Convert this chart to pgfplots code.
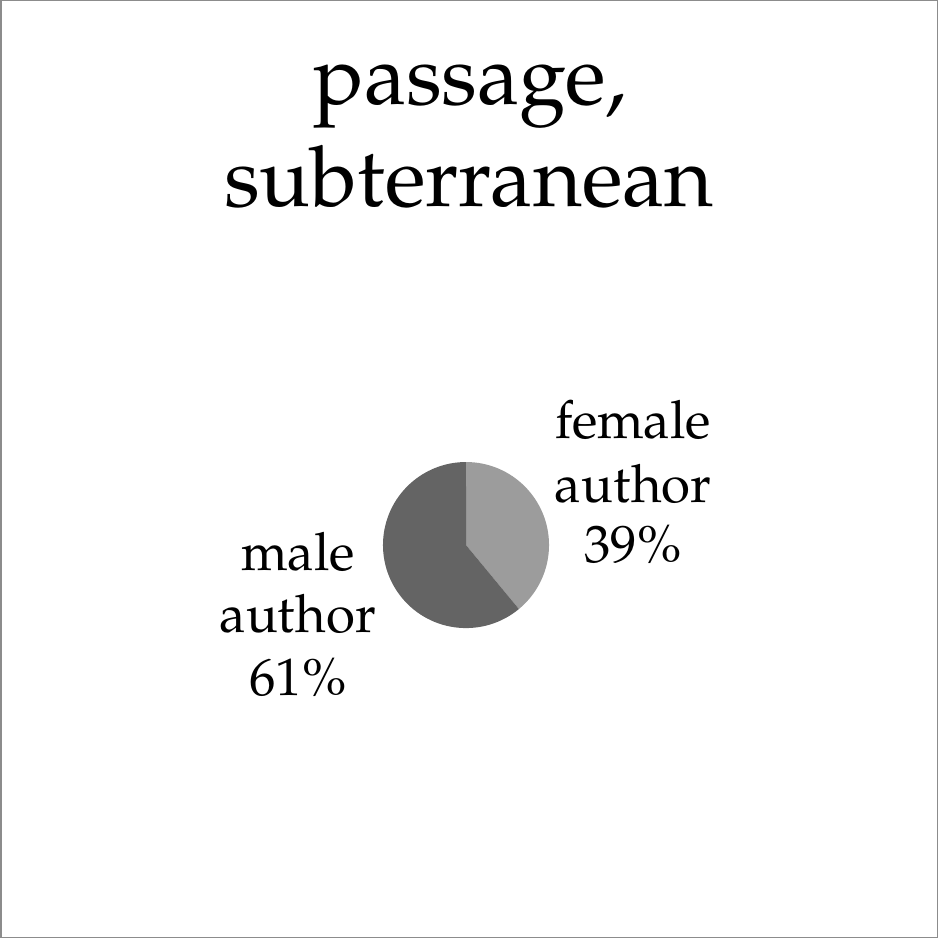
\documentclass[border=0pt]{standalone}
\usepackage{fontspec}
\setmainfont{TeX Gyre Pagella}
\usepackage{pgfplots}
\pgfplotsset{compat=1.18}
\usepackage{pgfplotstable}
\pgfplotstableread{
label value
female 39
male 61
}\piedata
\pgfplotstablegetelem{0}{value}\of\piedata \let\vf\pgfplotsretval
\pgfplotstablegetelem{1}{value}\of\piedata \let\vm\pgfplotsretval
\pgfmathsetmacro\af{\vf/(\vf+\vm)*360}
\pgfmathsetmacro\am{\vm/(\vf+\vm)*360}
\definecolor{femc}{HTML}{9C9C9C}
\definecolor{malec}{HTML}{646464}
\definecolor{framec}{HTML}{8C8C8C}
\def\R{1.66cm}
\begin{document}
\begin{tikzpicture}
\begin{axis}[
  x=0.02cm, y=0.02cm,
  xmin=0, xmax=938, ymin=0, ymax=938,
  y dir=reverse,
  hide axis, clip=false,
]
\draw[framec, line width=0.03cm] (axis cs:1,1) rectangle (axis cs:937,937);
% pie slices from the table values
\fill[femc] (axis cs:466,545) -- ++(90:\R) arc[start angle=90, delta angle=-\af, radius=\R] -- cycle;
\fill[malec] (axis cs:466,545) -- ++(90-\af:\R) arc[start angle=90-\af, delta angle=-\am, radius=\R] -- cycle;
% title
\node[anchor=base, font=\fontsize{48}{56}\selectfont, inner sep=0pt] at (axis cs:470,105) {passage,};
\node[anchor=base, font=\fontsize{48}{56}\selectfont, inner sep=0pt] at (axis cs:469,207) {subterranean};
% labels
\node[anchor=base, font=\fontsize{30}{35}\selectfont, inner sep=0pt] at (axis cs:633,439) {female};
\node[anchor=base, font=\fontsize{30}{35}\selectfont, inner sep=0pt] at (axis cs:633,502) {author};
\node[anchor=base, font=\fontsize{30}{35}\selectfont, inner sep=0pt] at (axis cs:633,562) {\vf\%};
\node[anchor=base, font=\fontsize{30}{35}\selectfont, inner sep=0pt] at (axis cs:298,570) {male};
\node[anchor=base, font=\fontsize{30}{35}\selectfont, inner sep=0pt] at (axis cs:298,632) {author};
\node[anchor=base, font=\fontsize{30}{35}\selectfont, inner sep=0pt] at (axis cs:298,695) {\vm\%};
\end{axis}
\end{tikzpicture}
\end{document}
